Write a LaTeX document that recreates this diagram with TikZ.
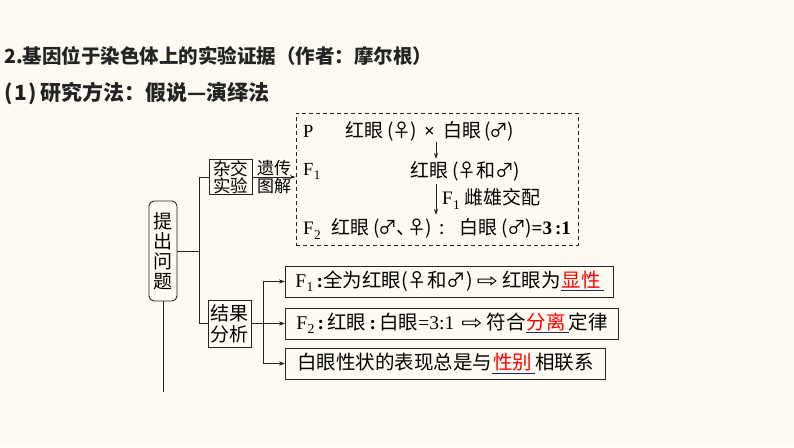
\documentclass[tikz,border=0pt]{standalone}
\usepackage{fontspec}
\setmainfont{Liberation Serif}
\newfontfamily\zh{Noto Sans CJK SC}
\newfontfamily\sym{DejaVu Sans}
\usetikzlibrary{arrows.meta,positioning}
\definecolor{paper}{RGB}{253,251,241}
\definecolor{ink}{RGB}{35,35,35}
\definecolor{ulblue}{RGB}{30,40,90}
\newcommand\Fn[1]{F\kern.3pt\raisebox{-0.22em}{\scalebox{0.7}{#1}}}
\newcommand\gap[1]{\textcolor{ulblue}{\underline{\kern1pt\textcolor{red}{#1}\kern3pt}}}
\newcommand\imp{\kern4pt\scalebox{1.3}[1]{\sym\char"21E8}\kern4pt}
\tikzset{
  box/.style={draw=ink, line width=0.9pt, fill=paper, inner sep=1pt, align=center},
  resbox/.style={box, anchor=west, minimum height=31, inner xsep=6pt},
  txt/.style={inner sep=0pt, anchor=west},
  link/.style={draw=ink, line width=0.9pt},
  arr/.style={link, -{Stealth[length=6pt,width=4pt]}}
}
\begin{document}
\begin{tikzpicture}[x=1pt,y=-1pt]
  \fill[paper] (0,0) rectangle (794,447);
  \useasboundingbox (0,0) rectangle (794,447);

  \node[txt, text=ink] (title) at (4,56) {\fontsize{19.5}{20}\zh\bfseries 2.基因位于染色体上的实验证据（作者：摩尔根）};
  \node[txt, text=ink] (method) at (4,93) {\fontsize{21}{21}\zh\bfseries (\kern1.5pt1\kern1.5pt)\kern4pt研究方法：假说—演绎法};

  \node[box, rounded corners=5pt, minimum width=28, minimum height=100, font=\zh\fontsize{19}{20}\selectfont] (tichu) at (163,251) {提\\出\\问\\题};
  \node[box, minimum width=43, minimum height=35, font=\zh\fontsize{17.5}{17.5}\selectfont] (zajiao) at (230.5,177) {杂交\\实验};
  \node[box, minimum width=43, minimum height=47, font=\zh\fontsize{19}{21}\selectfont] (jieguo) at (229.5,323.5) {结果\\分析};
  \node[draw=ink, line width=0.9pt, dash pattern=on 4pt off 3pt, minimum width=282, minimum height=132] (exp) at (437,179) {};

  \node[txt, font=\fontsize{18.5}{18}\selectfont] (P) at (303,131) {P};
  \node[txt, font=\zh\fontsize{19}{18}\selectfont] (prow) at (345,131)
    {红眼\kern4pt(\kern-1pt♀\kern-1pt)\kern7pt{\rmfamily\bfseries ×}\kern9pt白眼\kern3pt(\kern-2pt♂\kern-1pt)};
  \node[txt, font=\fontsize{18.5}{18}\selectfont] (F1) at (303,171) {\Fn{1}};
  \node[txt, font=\zh\fontsize{19}{18}\selectfont] (f1row) at (410,171) {红眼\kern4pt(\kern-1pt♀和♂\kern-1pt)};
  \node[txt, font=\zh\fontsize{19}{18}\selectfont] (cross) at (442,199) {{\rmfamily\Fn{1}}\kern5pt雌雄交配};
  \node[txt, font=\zh\fontsize{19}{18}\selectfont] (f2row) at (303,229)
    {{\rmfamily\Fn{2}}\kern11pt红眼\kern4pt(\kern-2pt♂\kern-1pt、\kern-8pt♀\kern-1pt)\kern8pt:\kern15pt白眼\kern4pt(\kern-1pt♂\kern-1pt){\rmfamily\bfseries =3\kern3pt:1}};

  \coordinate (a1) at (436,142);
  \coordinate (b1) at (436,159);
  \coordinate (a2) at (436,184);
  \coordinate (b2) at (436,215);
  \draw[arr] (a1) -- (b1);
  \draw[arr] (a2) -- (b2);

  \draw[arr] (zajiao.east) -- (zajiao.east -| exp.west)
    node[midway, above=0pt, font=\zh\fontsize{17}{17}\selectfont, inner sep=1pt] (yc) {遗传}
    node[midway, below=0pt, font=\zh\fontsize{17}{17}\selectfont, inner sep=1pt] (tj) {图解};

  \coordinate (trunk) at (199,0);
  \draw[link] (tichu.east) -- (tichu.east -| trunk);
  \draw[link] (zajiao.west) -| (trunk |- jieguo.west) -- (jieguo.west);
  \coordinate (end) at (163,392);
  \draw[link] (tichu.south) -- (end);

  \node[resbox, minimum width=328, font=\zh\fontsize{19.5}{20}\selectfont] (r1) at (285,281.5)
    {{\rmfamily\Fn{1}\,\textbf{:}}全为红眼(♀和♂)\imp 红眼为\gap{显性}};
  \node[resbox, minimum width=333, font=\zh\fontsize{19.5}{20}\selectfont] (r2) at (285,323.5)
    {{\rmfamily\Fn{2}\,\textbf{:}\,}红眼{\rmfamily\,\textbf{:}\,}白眼{\rmfamily =3:1}\kern3pt\imp 符合\gap{分离}定律};
  \node[resbox, minimum width=320, font=\zh\fontsize{19.5}{20}\selectfont] (r3) at (285,363.5)
    {白眼性状的表现总是与\gap{性别}相联系};

  \coordinate (fork) at (263,323.5);
  \draw[arr] (jieguo.east) -- (r2.west);
  \draw[arr] (fork) |- (r1.west);
  \draw[arr] (fork) |- (r3.west);
\end{tikzpicture}
\end{document}
